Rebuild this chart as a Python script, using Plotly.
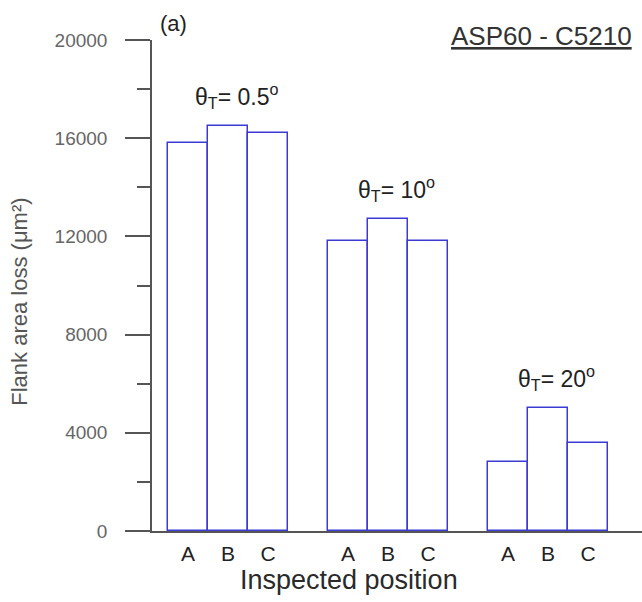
import plotly.graph_objects as go

# Flank area loss per inspected position, for three tilt angles
groups = ["θ<sub>T</sub>= 0.5<sup>o</sup>", "θ<sub>T</sub>= 10<sup>o</sup>", "θ<sub>T</sub>= 20<sup>o</sup>"]
positions = ["A", "B", "C"]
loss_05 = [15800, 16500, 16200]
loss_10 = [11800, 12700, 11800]
loss_20 = [2800, 5000, 3600]
series = [loss_05, loss_10, loss_20]

y_ticks = [0, 4000, 8000, 12000, 16000, 20000]

FONT = "Liberation Sans, Arial, sans-serif"
BAR_EDGE = "#3b3bd4"
AXIS = "#555555"

# each group occupies three slots, with one empty slot between groups
slot = lambda g, p: g * (len(positions) + 1) + p

xs, ys, labels = [], [], []
for g, vals in enumerate(series):
    for p, v in enumerate(vals):
        xs.append(slot(g, p))
        ys.append(v)
        labels.append(positions[p])

fig = go.Figure(
    go.Bar(
        x=xs,
        y=ys,
        width=1.0,
        marker=dict(color="white", line=dict(color=BAR_EDGE, width=1.5)),
        showlegend=False,
    )
)

annotations = []
for g, vals in enumerate(series):
    annotations.append(dict(
        x=slot(g, 1), y=max(vals), xref="x", yref="y",
        text=groups[g], showarrow=False,
        xanchor="center", yanchor="middle", xshift=8, yshift=30,
        font=dict(family=FONT, size=23, color="#222222"),
    ))

# plot area spans 152..642 px horizontally
annotations += [
    dict(x=(173 - 152) / 490, y=1, xref="paper", yref="paper", text="(a)",
         showarrow=False, xanchor="center", yanchor="middle", yshift=17,
         font=dict(family=FONT, size=22, color="#222222")),
    dict(x=1, y=1, xref="paper", yref="paper", text="<u>ASP60 - C5210</u>",
         showarrow=False, xanchor="right", yanchor="middle", xshift=-8, yshift=4,
         font=dict(family=FONT, size=26, color="#333333")),
    dict(x=0.402, y=0, xref="paper", yref="paper", text="Inspected position",
         showarrow=False, xanchor="center", yanchor="middle", yshift=-49,
         font=dict(family=FONT, size=27, color="#2a2a2a")),
    dict(x=0, y=0.467, xref="paper", yref="paper", text="Flank area loss (μm²)",
         showarrow=False, textangle=-90, xanchor="center", yanchor="middle",
         xshift=-132, font=dict(family=FONT, size=22, color="#555555")),
]

fig.update_layout(
    width=642,
    height=602,
    margin=dict(l=152, r=0, t=40, b=71),
    paper_bgcolor="white",
    plot_bgcolor="white",
    font=dict(family=FONT, size=19, color="#333333"),
    bargap=0,
    annotations=annotations,
    xaxis=dict(
        range=[-0.9, 11.35],
        tickmode="array",
        tickvals=xs,
        ticktext=labels,
        showline=True,
        linecolor=AXIS,
        linewidth=1.5,
        showgrid=False,
        zeroline=False,
        ticks="outside",
        ticklen=3,
        tickcolor="rgba(0,0,0,0)",
        tickfont=dict(family=FONT, size=21, color="#222222"),
    ),
    yaxis=dict(
        range=[0, 20000],
        tickmode="array",
        tickvals=y_ticks,
        ticktext=[str(v) for v in y_ticks],
        showline=True,
        linecolor=AXIS,
        linewidth=1.5,
        showgrid=False,
        zeroline=False,
        ticks="outside",
        ticklen=25,
        tickwidth=1.5,
        tickcolor=AXIS,
        ticklabelstandoff=14,
        tickfont=dict(family=FONT, size=19, color="#666666"),
        minor=dict(tickvals=[2000, 6000, 10000, 14000, 18000], ticks="outside",
                   ticklen=13, tickwidth=1.5, tickcolor=AXIS, showgrid=False),
    ),
)

fig.write_html("out.html")
